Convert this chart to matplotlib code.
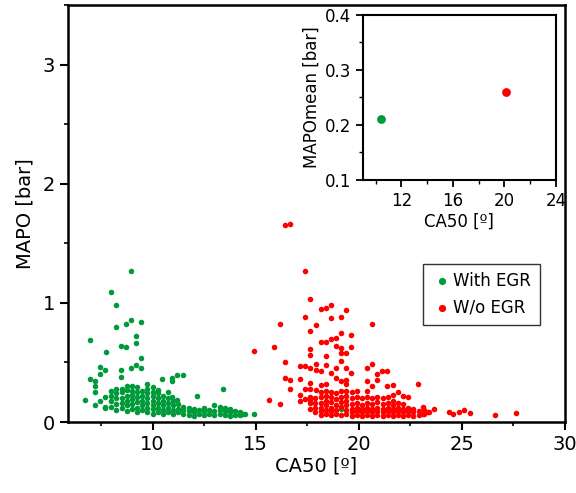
import numpy as np
import matplotlib
matplotlib.use("Agg")
import matplotlib.pyplot as plt
from matplotlib.ticker import MultipleLocator

# --- With EGR: scattered points (CA50, MAPO)
egr_x = [8.97, 7.97, 8.21, 8.97, 9.45, 8.73, 8.21, 6.98, 9.21, 9.21, 8.45, 8.73, 7.73, 9.45,
         7.47, 7.71, 7.47, 6.98, 7.22, 8.45, 8.45, 8.97, 9.20, 9.45, 10.46, 10.94, 10.94,
         11.18, 11.46, 12.18, 13.42, 6.71, 7.22, 7.22, 7.22, 7.71, 7.47, 7.71, 7.71, 14.92,
         14.41, 12.96, 10.94, 11.18, 19.14]
egr_y = [1.27, 1.09, 0.98, 0.86, 0.84, 0.82, 0.80, 0.69, 0.72, 0.66, 0.64, 0.63, 0.59, 0.535,
         0.46, 0.44, 0.40, 0.36, 0.34, 0.44, 0.38, 0.45, 0.48, 0.45, 0.36, 0.37, 0.34,
         0.395, 0.395, 0.22, 0.28, 0.185, 0.14, 0.30, 0.25, 0.21, 0.18, 0.13, 0.12, 0.067,
         0.067, 0.14, 0.21, 0.185, 0.107]

# dense lower band of the With EGR cloud, column by column
egr_cols = {
    8.00: [0.13, 0.18, 0.22, 0.26],
    8.25: [0.10, 0.15, 0.20, 0.24, 0.28],
    8.50: [0.12, 0.16, 0.20, 0.25, 0.28],
    8.75: [0.09, 0.14, 0.18, 0.22, 0.27, 0.30],
    9.00: [0.11, 0.15, 0.19, 0.23, 0.26, 0.30],
    9.25: [0.08, 0.12, 0.17, 0.21, 0.25, 0.29],
    9.50: [0.10, 0.14, 0.18, 0.22, 0.26],
    9.75: [0.08, 0.12, 0.16, 0.20, 0.24, 0.28, 0.32],
    10.00: [0.07, 0.11, 0.14, 0.18, 0.22, 0.25, 0.29],
    10.25: [0.08, 0.12, 0.16, 0.20, 0.24, 0.27],
    10.50: [0.07, 0.10, 0.14, 0.18, 0.22],
    10.75: [0.08, 0.12, 0.16, 0.20, 0.25],
    11.00: [0.07, 0.10, 0.14, 0.18],
    11.25: [0.08, 0.11, 0.15],
    11.50: [0.07, 0.10, 0.13],
    11.75: [0.06, 0.09, 0.12],
    12.00: [0.05, 0.08, 0.11],
    12.25: [0.07, 0.10],
    12.50: [0.06, 0.09, 0.12],
    12.75: [0.07, 0.10],
    13.00: [0.06, 0.09],
    13.25: [0.07, 0.10, 0.13],
    13.50: [0.06, 0.09, 0.12],
    13.75: [0.05, 0.08, 0.11],
    14.00: [0.06, 0.09],
    14.25: [0.06, 0.08],
    14.50: [0.07],
}

# --- W/o EGR: scattered points
noegr_x = [16.40, 16.67, 17.39, 17.65, 18.16, 18.40, 18.65, 19.40, 17.41, 18.65, 19.14, 16.17,
           17.91, 20.64, 17.65, 18.65, 18.90, 19.14, 18.16, 18.40, 19.64, 18.90, 19.14, 19.14,
           19.40, 19.64, 17.65, 17.65, 14.92, 15.91, 18.40, 16.41, 19.14, 17.15, 17.39, 17.65,
           17.91, 17.91, 18.16, 18.40, 18.65, 18.90, 19.40, 19.64, 20.38, 20.64, 20.88, 21.12,
           21.38, 16.41, 16.67, 16.67, 17.15, 17.65, 17.65, 17.91, 18.16, 18.40, 18.90, 19.14,
           19.40, 19.40, 20.38, 20.64, 20.88, 21.38, 21.64, 21.88, 22.12, 22.38, 22.88, 15.67,
           16.17, 17.15, 17.15, 17.41, 17.41, 17.65, 17.65, 21.64, 23.13, 23.13, 23.37, 23.64,
           24.39, 24.58, 24.85, 25.11, 25.38, 26.60, 27.60, 17.65, 17.65]
noegr_y = [1.65, 1.66, 1.27, 1.03, 0.95, 0.96, 0.98, 0.94, 0.88, 0.87, 0.885, 0.82,
           0.81, 0.82, 0.76, 0.70, 0.705, 0.745, 0.67, 0.67, 0.73, 0.64, 0.62, 0.58,
           0.58, 0.63, 0.61, 0.56, 0.60, 0.63, 0.55, 0.50, 0.51, 0.47, 0.47, 0.45,
           0.485, 0.44, 0.43, 0.475, 0.41, 0.45, 0.455, 0.41, 0.45, 0.49, 0.40, 0.43,
           0.43, 0.37, 0.35, 0.28, 0.36, 0.325, 0.28, 0.27, 0.31, 0.32, 0.37, 0.34,
           0.35, 0.32, 0.34, 0.30, 0.35, 0.30, 0.31, 0.25, 0.22, 0.21, 0.32, 0.185,
           0.15, 0.23, 0.18, 0.275, 0.19, 0.16, 0.11, 0.23, 0.13, 0.065, 0.08, 0.107,
           0.087, 0.065, 0.08, 0.10, 0.073, 0.056, 0.076, 0.21, 0.185]

noegr_cols = {
    17.90: [0.08, 0.12, 0.16, 0.20],
    18.15: [0.06, 0.09, 0.12, 0.16, 0.21, 0.25],
    18.40: [0.07, 0.10, 0.14, 0.18, 0.22, 0.26],
    18.65: [0.06, 0.09, 0.12, 0.17, 0.21, 0.25],
    18.90: [0.07, 0.10, 0.14, 0.19, 0.24],
    19.15: [0.06, 0.13, 0.17, 0.21, 0.26],
    19.40: [0.07, 0.10, 0.14, 0.18, 0.22, 0.26],
    19.65: [0.05, 0.08, 0.11, 0.15, 0.20, 0.25],
    19.90: [0.06, 0.09, 0.12, 0.16, 0.21, 0.26],
    20.15: [0.05, 0.08, 0.11, 0.14, 0.20],
    20.40: [0.06, 0.09, 0.12, 0.16, 0.21, 0.26],
    20.65: [0.05, 0.08, 0.11, 0.15, 0.20],
    20.90: [0.06, 0.09, 0.12, 0.17, 0.21],
    21.15: [0.05, 0.08, 0.11, 0.15, 0.20],
    21.40: [0.06, 0.09, 0.12, 0.16, 0.21],
    21.65: [0.05, 0.08, 0.11, 0.14, 0.18],
    21.90: [0.06, 0.09, 0.12, 0.16],
    22.15: [0.05, 0.08, 0.11, 0.15],
    22.40: [0.06, 0.09, 0.12],
    22.65: [0.05, 0.08, 0.11],
    22.90: [0.06, 0.09],
    23.15: [0.07, 0.10],
    23.40: [0.08],
}

# inset: mean values
mean_ca50 = [10.4, 20.1]
mean_mapo = [0.21, 0.26]

labels = ["With EGR", "W/o EGR"]
green = "#009a3a"
red = "#ff0000"

for cx, ys in egr_cols.items():
    egr_x += [cx] * len(ys)
    egr_y += ys
for cx, ys in noegr_cols.items():
    noegr_x += [cx] * len(ys)
    noegr_y += ys

plt.rcParams['font.family'] = ['DejaVu Sans']

fig = plt.figure(figsize=(5.76, 4.93), dpi=100)
ax = fig.add_axes([0.118, 0.144, 0.863, 0.846])

ax.scatter(egr_x, egr_y, s=16, color=green, label=labels[0], zorder=3, linewidths=0)
ax.scatter(noegr_x, noegr_y, s=16, color=red, label=labels[1], zorder=3, linewidths=0)

ax.set_xlim(5.9, 30)
ax.set_ylim(0, 3.5)
ax.xaxis.set_major_locator(MultipleLocator(5))
ax.xaxis.set_minor_locator(MultipleLocator(2.5))
ax.yaxis.set_major_locator(MultipleLocator(1))
ax.yaxis.set_minor_locator(MultipleLocator(0.5))
ax.tick_params(which='major', direction='out', length=6, width=1.5, labelsize=14)
ax.tick_params(which='minor', direction='out', length=3, width=1.2)
for sp in ax.spines.values():
    sp.set_linewidth(1.8)
ax.set_xlabel("CA50 [º]", fontsize=14, labelpad=2)
ax.set_ylabel("MAPO [bar]", fontsize=14, labelpad=6)

leg = ax.legend(loc='upper left', bbox_to_anchor=(0.715, 0.38), fontsize=12,
                frameon=True, fancybox=False, edgecolor='black', markerscale=1.3,
                handletextpad=0.1, borderpad=0.5, handlelength=1.2, borderaxespad=0)
leg.get_frame().set_linewidth(1.0)

# inset with means
ins = fig.add_axes([0.630, 0.635, 0.335, 0.335])
ins.scatter(mean_ca50[0], mean_mapo[0], s=40, color=green, linewidths=0, zorder=3)
ins.scatter(mean_ca50[1], mean_mapo[1], s=40, color=red, linewidths=0, zorder=3)
ins.set_xlim(9, 24)
ins.set_ylim(0.1, 0.4)
ins.set_xticks([12, 16, 20, 24])
ins.xaxis.set_minor_locator(MultipleLocator(2))
ins.set_yticks([0.1, 0.2, 0.3, 0.4])
ins.yaxis.set_minor_locator(MultipleLocator(0.05))
ins.tick_params(which='major', direction='out', length=5, width=1.3, labelsize=12)
ins.tick_params(which='minor', direction='out', length=3, width=1.0)
for sp in ins.spines.values():
    sp.set_linewidth(1.5)
ins.set_xlabel("CA50 [º]", fontsize=12, labelpad=2)
ins.set_ylabel("MAPOmean [bar]", fontsize=12, labelpad=3)

fig.savefig("out.png", dpi=100)
